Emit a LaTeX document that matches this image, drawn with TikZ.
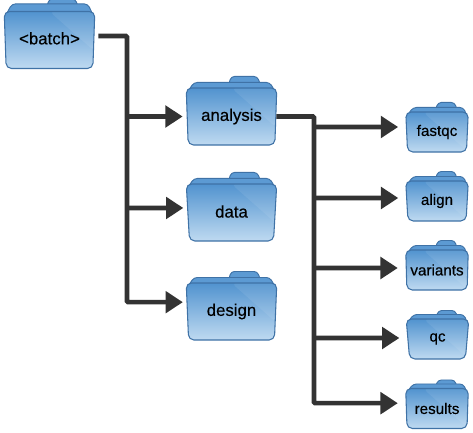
\documentclass[tikz,border=0pt]{standalone}
\usepackage{fontspec}
\setmainfont{Liberation Sans}[FakeBold=0.3]
\usetikzlibrary{arrows.meta,calc,backgrounds,shapes.geometric}
\definecolor{foldline}{HTML}{3F72A6}
\definecolor{foldtop}{HTML}{5193CF}
\definecolor{foldbot}{HTML}{BFDAF1}
\definecolor{foldback}{HTML}{5C9AD3}
\definecolor{linkc}{HTML}{333333}

\begin{document}
\begin{tikzpicture}[
    x=0.75pt,y=-0.75pt,
    folder/.style={trapezium,shape border rotate=180,trapezium stretches=true,
      draw=foldline,line width=0.8pt,rounded corners=4pt,
      top color=foldtop,bottom color=foldbot,inner sep=0pt,text=black,
      path picture={
        \fill[white,opacity=.08] (path picture bounding box.north east) -- ++(0,-30pt)
          -- ($(path picture bounding box.north east)+(-34pt,0)$) -- cycle;
      }},
    bigf/.style={folder,trapezium angle=85,minimum width=68pt,minimum height=42.75pt,font=\fontsize{12.6}{14}\selectfont},
    smallf/.style={folder,trapezium angle=85,minimum width=47pt,minimum height=30pt,font=\fontsize{11.4}{13}\selectfont},
    back/.style={draw=foldline,line width=0.7pt,fill=foldback,rounded corners=2.5pt},
    link/.style={draw=linkc,line width=3.4pt,rounded corners=0.8pt,
      -{Triangle[length=13pt,width=16pt]}},
  ]
\useasboundingbox (0,0) rectangle (473,432);

% top level
\node[bigf] (batch) at (49.5,40) {\raisebox{2.6pt}{<batch>}};

% second level
\node[bigf] (analysis) at (231.5,116.5) {\raisebox{1.6pt}{analysis}};
\node[bigf] (data) at (231.5,212.5) {\raisebox{1.6pt}{data}};
\node[bigf] (design) at (231.5,311.5) {\raisebox{1.6pt}{design}};

% third level
\node[smallf] (fastqc) at (437,132) {fastqc};
\node[smallf] (align) at (437,201) {align};
\node[smallf] (variants) at (437,270) {variants};
\node[smallf] (qc) at (437.5,339) {qc};
\node[smallf] (results) at (437,408.5) {results};

% tabs behind the folders
\begin{scope}[on background layer]
  \foreach \f/\w/\tabh/\flaph in {batch/89/12/7,analysis/89/11/5,data/89/11/5,design/89/11/5,
      fastqc/61/9/4,align/61/9/4,variants/61/9/4,qc/61/8/4,results/61/8/4} {
    \path[back] ($(\f.north)+(-0.05*\w,3)$) -- ++(4,-\tabh-3)
      -- ($(\f.north)+(0.29*\w,-\tabh)$) -- ($(\f.north)+(0.35*\w,3)$) -- cycle;
    \path[back] ($(\f.north)+(-0.49*\w,4)$) -- ++(6,-\flaph-4)
      -- ($(\f.north)+(0.43*\w,-\flaph)$) -- ($(\f.north)+(0.49*\w,4)$) -- cycle;
  }
\end{scope}

\coordinate (railA) at (127,200);
\coordinate (railB) at (314,250);

% connectors
\draw[link,shorten <=3pt,shorten >=3pt] ([yshift=3pt]batch.east) -| (railA) |- ([yshift=7pt]design.west);
\draw[link,shorten >=3pt] (railA |- analysis.west) -- (analysis.west);
\draw[link,shorten >=3pt] (railA |- data.west) ++(0,-4.5) -- ([yshift=3.4pt]data.west);

\draw[link,shorten >=6pt] (analysis.east) -| (railB) |- ([yshift=4pt]results.west);
\foreach \f/\dy in {fastqc/3.75,align/2.25,variants/1.5,qc/0.75} {
  \draw[link,shorten >=6pt] (railB |- \f.west) ++(0,-\dy/0.75) -- ([yshift=\dy pt]\f.west);
}
\end{tikzpicture}
\end{document}
